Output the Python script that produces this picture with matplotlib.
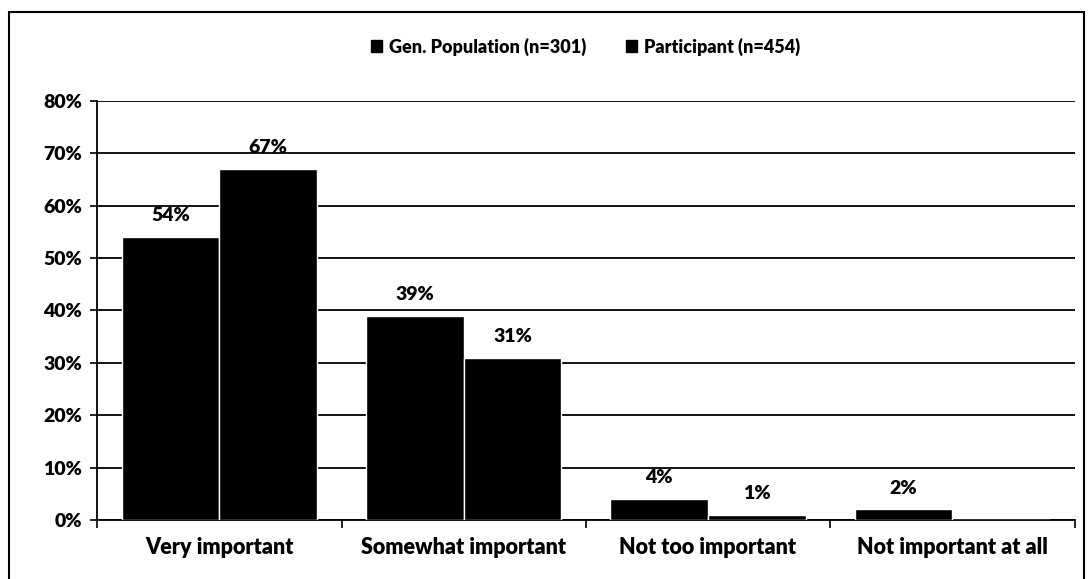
import matplotlib
matplotlib.use('Agg')
import matplotlib.pyplot as plt
import numpy as np
from matplotlib.patches import Rectangle

plt.rcParams['font.family'] = ['Lato', 'DejaVu Sans']
plt.rcParams['font.weight'] = 'bold'

categories = ['Very important', 'Somewhat important', 'Not too important', 'Not important at all']
gen_pop = [54, 39, 4, 2]
participant = [67, 31, 1, 0]
gen_labels = ['54%', '39%', '4%', '2%']
part_labels = ['67%', '31%', '1%', '']
yticks = [0, 10, 20, 30, 40, 50, 60, 70, 80]

fig = plt.figure(figsize=(10.92, 5.79), dpi=100)
ax = fig.add_axes([0.089, 0.102, 0.895, 0.724])

x = np.arange(len(categories))
w = 0.4
ax.bar(x - w / 2, gen_pop, w, color='black', edgecolor='white', linewidth=1.0, zorder=3,
       label='Gen. Population (n=301)')
ax.bar(x + w / 2, participant, w, color='black', edgecolor='white', linewidth=1.0, zorder=3,
       label='Participant (n=454)')

for xi, v, t in zip(x - w / 2, gen_pop, gen_labels):
    ax.annotate(t, (xi, v), xytext=(0, 9), textcoords='offset points', ha='center', va='bottom',
                fontsize=14, fontweight='heavy')
for xi, v, t in zip(x + w / 2, participant, part_labels):
    if t:
        ax.annotate(t, (xi, v), xytext=(0, 9), textcoords='offset points', ha='center', va='bottom',
                    fontsize=14, fontweight='heavy')

ax.set_ylim(0, 80)
ax.set_xlim(-0.5, 3.5)
ax.set_yticks(yticks)
ax.set_yticklabels([f'{t}%' for t in yticks], fontsize=14, fontweight='heavy')
ax.yaxis.grid(True, color='black', linewidth=1.3, zorder=0)
ax.set_axisbelow(True)

ax.set_xticks(x)
ax.set_xticklabels(categories, fontsize=15.5, fontweight='heavy')
ax.tick_params(axis='x', length=0, pad=12)
ax.set_xticks(np.arange(-0.5, 4.0, 1.0), minor=True)
ax.tick_params(axis='x', which='minor', length=6, width=1.2, direction='out')
ax.tick_params(axis='y', length=5, width=1.2, direction='out', pad=6)

for s in ['top', 'right']:
    ax.spines[s].set_visible(False)
ax.spines['left'].set_linewidth(1.3)
ax.spines['bottom'].set_linewidth(1.3)

leg = ax.legend(loc='upper center', bbox_to_anchor=(0.5, 1.19), ncol=2, frameon=False,
                prop={'size': 13, 'weight': 'heavy'}, handlelength=0.6, handleheight=0.6,
                handletextpad=0.4, columnspacing=2.2)
for h in leg.legend_handles:
    h.set_edgecolor('black')
    h.set_hatch('++')

# outer chart frame
fig.patches.append(Rectangle((0.008, -0.02), 0.985, 1.0, transform=fig.transFigure,
                             fill=False, edgecolor='black', linewidth=1.5))

fig.savefig('out.png', dpi=100, facecolor='white')
